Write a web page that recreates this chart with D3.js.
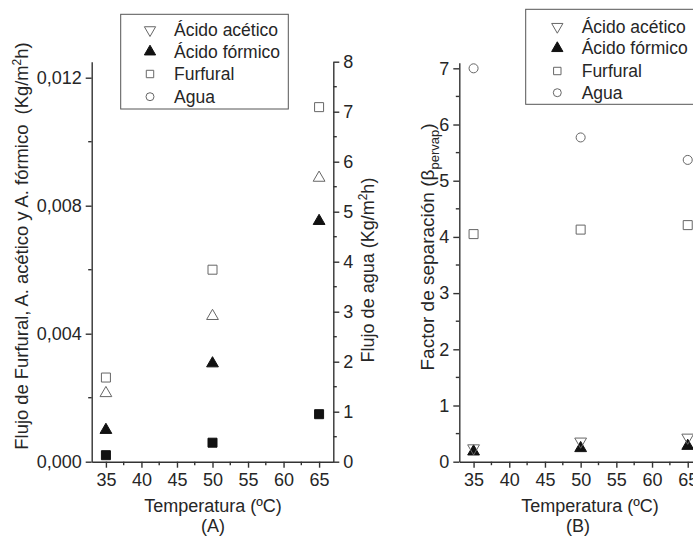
<!DOCTYPE html>
<html>
<head>
<meta charset="utf-8">
<script src="https://d3js.org/d3.v7.min.js"></script>
<style>
  body { margin: 0; background: #fff; }
  svg text { font-family: 'Liberation Sans', Arial, sans-serif; fill: #262626; }
  .axis path, .axis line { stroke: #333; stroke-width: 1.4; }
  .axis text { font-size: 18px; fill: #262626; }
</style>
</head>
<body>
<script>
// temperatures (ºC)
var temps = [35, 50, 65];

// (A) flux, left axis (Kg/m2h)
var furfuralFlux = [0.00263, 0.00600, 0.01108];
var aceticFlux   = [0.00214, 0.00455, 0.00887];
var formicFlux   = [0.00099, 0.00307, 0.00752];
// (A) water flux, right axis (Kg/m2h)
var waterFlux    = [0.13, 0.38, 0.95];

// (B) separation factor
var waterSep    = [7.00, 5.77, 5.37];
var furfuralSep = [4.05, 4.13, 4.21];
var aceticSep   = [0.24, 0.36, 0.43];
var formicSep   = [0.18, 0.24, 0.28];

var xTicks = [35, 40, 45, 50, 55, 60, 65];
var xMinor = [37.5, 42.5, 47.5, 52.5, 57.5, 62.5];
var leftTicksA = [0, 0.004, 0.008, 0.012];
var leftMinorA = [0.002, 0.006, 0.010];
var rightTicksA = [0, 1, 2, 3, 4, 5, 6, 7, 8];
var rightMinorA = [0.5, 1.5, 2.5, 3.5, 4.5, 5.5, 6.5, 7.5];
var yTicksB = [0, 1, 2, 3, 4, 5, 6, 7];
var yMinorB = [0.5, 1.5, 2.5, 3.5, 4.5, 5.5, 6.5];
var legendLabels = ['Ácido acético', 'Ácido fórmico', 'Furfural', 'Agua'];

var W = 693, H = 537;
var svg = d3.select('body').append('svg').attr('width', W).attr('height', H);

var comma = d3.formatLocale({decimal: ',', thousands: '.', grouping: [3], currency: ['', '']});
var fmt3 = comma.format('.3f');

// symbol helpers
function mark(g, type, x, y, size, filled, rotate) {
  g.append('path')
    .attr('d', d3.symbol().type(type).size(size)())
    .attr('transform', 'translate(' + x + ',' + y + ')' + (rotate ? ' rotate(180)' : ''))
    .attr('fill', filled ? '#111' : 'none')
    .attr('stroke', filled ? '#111' : '#666')
    .attr('stroke-width', 1);
}

function minorTicks(g, scale, vals, orient, len) {
  g.selectAll('line.minor').data(vals).enter().append('line')
    .attr('class', 'minor')
    .attr('stroke', '#333').attr('stroke-width', 1.4)
    .each(function(d) {
      var s = d3.select(this);
      if (orient == 'bottom') s.attr('x1', scale(d)).attr('x2', scale(d)).attr('y1', 0).attr('y2', len);
      if (orient == 'left') s.attr('y1', scale(d)).attr('y2', scale(d)).attr('x1', 0).attr('x2', -len);
      if (orient == 'right') s.attr('y1', scale(d)).attr('y2', scale(d)).attr('x1', 0).attr('x2', len);
    });
}

// ---------- Panel A ----------
var xA = d3.scaleLinear().domain([33, 67]).range([91.7, 333.3]);
var yA = d3.scaleLinear().domain([0, 0.0125]).range([461.7, 61.7]);
var yA2 = d3.scaleLinear().domain([0, 8]).range([461.7, 61.7]);

var gxA = svg.append('g').attr('class', 'axis').attr('transform', 'translate(0,461.7)')
  .call(d3.axisBottom(xA).tickValues(xTicks).tickSize(6).tickPadding(6).tickSizeOuter(0));
minorTicks(gxA, xA, xMinor, 'bottom', 3.5);

var gyA = svg.append('g').attr('class', 'axis').attr('transform', 'translate(91.7,0)')
  .call(d3.axisLeft(yA).tickValues(leftTicksA).tickFormat(fmt3).tickSize(6).tickPadding(4).tickSizeOuter(0));
minorTicks(gyA, yA, leftMinorA, 'left', 3.5);

var gyA2 = svg.append('g').attr('class', 'axis').attr('transform', 'translate(333.3,0)')
  .call(d3.axisRight(yA2).tickValues(rightTicksA).tickSize(6).tickPadding(4).tickSizeOuter(0));
minorTicks(gyA2, yA2, rightMinorA, 'right', 3.5);

var mA = svg.append('g');
temps.forEach(function(t, i) {
  mark(mA, d3.symbolSquare, xA(t), yA(furfuralFlux[i]), 81, false);
  mark(mA, d3.symbolTriangle, xA(t), yA(aceticFlux[i]), 60, false);
  mark(mA, d3.symbolTriangle, xA(t), yA(formicFlux[i]), 60, true);
  mark(mA, d3.symbolSquare, xA(t), yA2(waterFlux[i]), 81, true);
});

// axis titles A
var tA = svg.append('text')
  .attr('transform', 'translate(28,246) rotate(-90)')
  .attr('text-anchor', 'middle').attr('font-size', '18.4px')
  .style('white-space', 'pre');
tA.append('tspan').text('Flujo de Furfural, A. acético y A. fórmico  (Kg/m');
tA.append('tspan').text('2').attr('font-size', '12px').attr('dy', -7);
tA.append('tspan').text('h)').attr('dy', 7);

var tA2 = svg.append('text')
  .attr('transform', 'translate(374,270) rotate(-90)')
  .attr('text-anchor', 'middle').attr('font-size', '18px');
tA2.append('tspan').text('Flujo de agua (Kg/m');
tA2.append('tspan').text('2').attr('font-size', '12px').attr('dy', -7);
tA2.append('tspan').text('h)').attr('dy', 7);

svg.append('text').attr('x', 213).attr('y', 512).attr('text-anchor', 'middle')
  .attr('font-size', '18px').text('Temperatura (ºC)');
svg.append('text').attr('x', 213).attr('y', 532).attr('text-anchor', 'middle')
  .attr('font-size', '18px').text('(A)');

// ---------- Panel B ----------
var xB = d3.scaleLinear().domain([33, 67]).range([459.3, 702]);
var yB = d3.scaleLinear().domain([0, 7.1]).range([461.7, 62.7]);

var gxB = svg.append('g').attr('class', 'axis').attr('transform', 'translate(0,461.7)')
  .call(d3.axisBottom(xB).tickValues(xTicks).tickSize(6).tickPadding(6).tickSizeOuter(0));
minorTicks(gxB, xB, xMinor, 'bottom', 3.5);

var gyB = svg.append('g').attr('class', 'axis').attr('transform', 'translate(459.3,0)')
  .call(d3.axisLeft(yB).tickValues(yTicksB).tickSize(6).tickPadding(4).tickSizeOuter(0));
minorTicks(gyB, yB, yMinorB, 'left', 3.5);

var mB = svg.append('g');
temps.forEach(function(t, i) {
  mark(mB, d3.symbolCircle, xB(t), yB(waterSep[i]), 64, false);
  mark(mB, d3.symbolSquare, xB(t), yB(furfuralSep[i]), 81, false);
  mark(mB, d3.symbolTriangle, xB(t), yB(formicSep[i]), 60, true);
  mark(mB, d3.symbolTriangle, xB(t), yB(aceticSep[i]), 60, false, true);
});

var tB = svg.append('text')
  .attr('transform', 'translate(434,247) rotate(-90)')
  .attr('text-anchor', 'middle').attr('font-size', '19px');
tB.append('tspan').text('Factor de separación (β');
tB.append('tspan').text('pervap').attr('font-size', '13px').attr('dy', 5);
tB.append('tspan').text(')').attr('dy', -5);

svg.append('text').attr('x', 590).attr('y', 512).attr('text-anchor', 'middle')
  .attr('font-size', '18px').text('Temperatura (ºC)');
svg.append('text').attr('x', 578).attr('y', 532).attr('text-anchor', 'middle')
  .attr('font-size', '18px').text('(B)');

// ---------- Legends ----------
function legend(x, y, w, h, symX, textX, rows) {
  var g = svg.append('g');
  g.append('rect').attr('x', x).attr('y', y).attr('width', w).attr('height', h)
    .attr('fill', '#fff').attr('stroke', '#555').attr('stroke-width', 1);
  var kinds = [
    [d3.symbolTriangle, false, true, 55],
    [d3.symbolTriangle, true, false, 55],
    [d3.symbolSquare, false, false, 55],
    [d3.symbolCircle, false, false, 50]
  ];
  legendLabels.forEach(function(lab, i) {
    mark(g, kinds[i][0], symX, rows[i], kinds[i][3], kinds[i][1], kinds[i][2]);
    g.append('text').attr('x', textX).attr('y', rows[i] + 6).attr('font-size', '17.5px').text(lab);
  });
}
legend(120.7, 14.3, 167.6, 94.7, 150, 174, [30, 51.7, 74, 96.7]);
legend(525.7, 9.3, 200, 95, 557.3, 581.7, [26.7, 48.3, 71, 92.7]);
</script>
</body>
</html>
